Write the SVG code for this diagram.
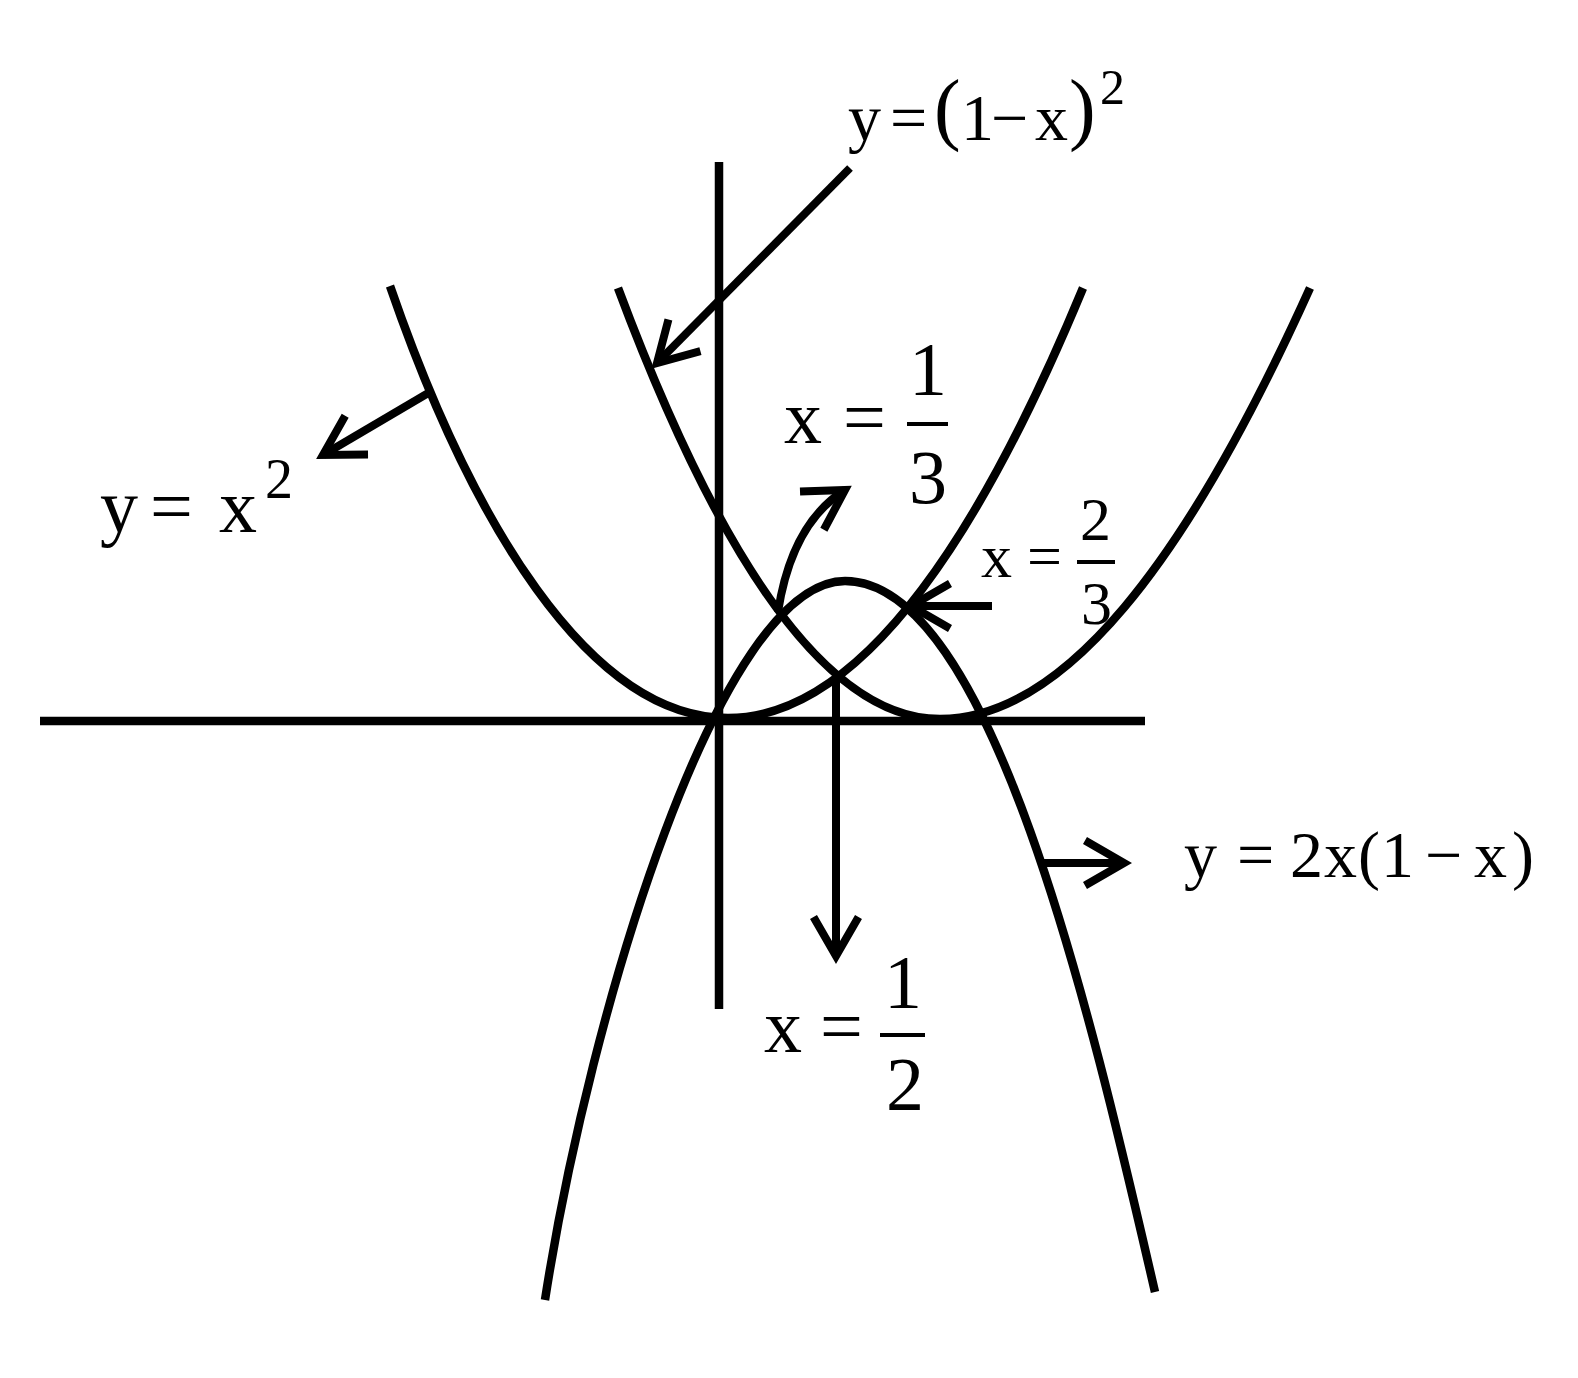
<svg xmlns="http://www.w3.org/2000/svg" width="1578" height="1378" viewBox="0 0 1578 1378">
<defs>
<style>
.ln{fill:none;stroke:#000;stroke-width:8.5;stroke-linecap:butt;stroke-linejoin:round}
.ar{fill:none;stroke:#000;stroke-width:8;stroke-linecap:butt;marker-end:url(#ah)}
.t{font-family:"Liberation Serif","Times New Roman",serif;fill:#000}
.bar{stroke:#000;stroke-width:4}
</style>
<marker id="ah" markerUnits="userSpaceOnUse" viewBox="-50 -30 60 60" markerWidth="60" markerHeight="60" refX="0" refY="0" orient="auto" overflow="visible">
<path d="M-39,-22.5 L0,0 L-39,22.5" fill="none" stroke="#000" stroke-width="8" stroke-linejoin="miter"/>
</marker>
</defs>
<rect width="1578" height="1378" fill="#fff"/>
<g id="axes">
<path class="ln" d="M40,721 H1145"/>
<path class="ln" d="M719,162 V1009"/>
</g>
<g id="curve-x2">
<path class="ln" d="M390,286 C470,518 588,718 728,718 Q905,718 1083,288"/>
</g>
<g id="curve-1mx2">
<path class="ln" d="M618,288 Q779,719 940,719 C1063,719 1185,565 1310,288"/>
</g>
<g id="curve-2x1mx">
<path class="ln" d="M545,1300 C590,1010 720,581 845,581 C990,581 1090,1010 1155,1292"/>
</g>
<g id="connectors">
<path class="ar" d="M430,392 L323,455"/>
<path class="ar" d="M850,168 L657,363"/>
<path class="ar" d="M778,612 C786,560 805,515 845,490"/>
<path class="ar" d="M992,606 L911,606"/>
<path class="ar" d="M836,678 L836,956"/>
<path class="ar" d="M1040,863 L1124,863"/>
</g>
<g id="label-x2">
<text class="t" font-size="76" x="100 150 219" y="532">y=x</text>
<text class="t" font-size="56" x="265" y="498">2</text>
</g>
<g id="label-1mx2">
<text class="t" font-size="66" x="848 890" y="140">y=</text>
<text class="t" font-size="80" x="934" y="135">(</text>
<text class="t" font-size="66" x="961 991 1035" y="140">1−x</text>
<text class="t" font-size="80" x="1069" y="135">)</text>
<text class="t" font-size="50" x="1100" y="104">2</text>
</g>
<g id="label-third">
<text class="t" font-size="76" x="784 843" y="443">x=</text>
<text class="t" font-size="76" x="909" y="395">1</text>
<line class="bar" x1="907" y1="424" x2="948" y2="424"/>
<text class="t" font-size="76" x="909" y="503">3</text>
</g>
<g id="label-twothirds">
<text class="t" font-size="62" x="981 1027" y="577">x=</text>
<text class="t" font-size="62" x="1080" y="540">2</text>
<line class="bar" x1="1077" y1="562" x2="1115" y2="562"/>
<text class="t" font-size="62" x="1081" y="624">3</text>
</g>
<g id="label-half">
<text class="t" font-size="76" x="764 820" y="1052">x=</text>
<text class="t" font-size="76" x="884" y="1008">1</text>
<line class="bar" x1="880" y1="1035" x2="925" y2="1035"/>
<text class="t" font-size="76" x="886" y="1110">2</text>
</g>
<g id="label-2x1mx">
<text class="t" font-size="66" x="1184 1237 1290 1324 1358 1381 1425 1474 1512" y="877">y=2x(1−x)</text>
</g>
</svg>
